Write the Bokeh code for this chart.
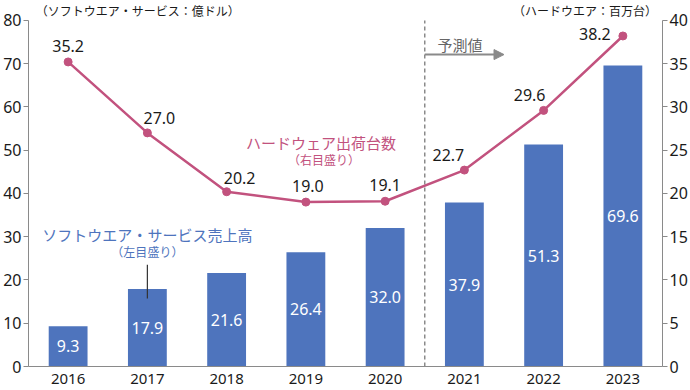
from bokeh.plotting import figure
from bokeh.models import (Range1d, FactorRange, LinearAxis, Label, Arrow,
                          NormalHead, FixedTicker, ColumnDataSource)
from bokeh.core.properties import value
from bokeh.embed import file_html
from bokeh.resources import INLINE

# ---- data ----
years = ["2016", "2017", "2018", "2019", "2020", "2021", "2022", "2023"]
software = [9.3, 17.9, 21.6, 26.4, 32.0, 37.9, 51.3, 69.6]      # 億ドル (left)
hardware = [35.2, 27.0, 20.2, 19.0, 19.1, 22.7, 29.6, 38.2]     # 百万台 (right)
left_ticks = [0, 10, 20, 30, 40, 50, 60, 70, 80]
right_ticks = [0, 5, 10, 15, 20, 25, 30, 35, 40]

# ---- layout of line value labels (screen px) ----
hw_dx = [0, 12, 13, 2, 0, -16, -14, -28]
hw_dy = [-16, -15, -14, -16, -16, -15, -15, -2]

FONT = "Noto Sans CJK JP"
NUMFONT = "Noto Sans"
BLUE = "#4e74bd"
PINK = "#c2527e"
GRAY = "#8a8a8a"
TXT = "#1a1a1a"

LTOP = 84.6               # left range top (headroom above the 80 tick)
RTOP = LTOP / 2           # right range top (same proportion)

p = figure(width=690, height=386,
           x_range=FactorRange(factors=years, range_padding=0),
           y_range=Range1d(0, LTOP),
           output_backend="svg", toolbar_location=None,
           min_border_left=0, min_border_right=0,
           min_border_top=0, min_border_bottom=20)
p.extra_y_ranges = {"right": Range1d(0, RTOP)}
p.outline_line_color = None
p.xgrid.grid_line_color = None
p.ygrid.grid_line_color = None
p.background_fill_color = "white"
p.border_fill_color = "white"

# axes
yl = p.yaxis[0]
yl.ticker = FixedTicker(ticks=left_ticks)
yl.bounds = (0, 80)
yr = LinearAxis(y_range_name="right", ticker=FixedTicker(ticks=right_ticks),
                bounds=(0, 40))
p.add_layout(yr, "right")
for ax in (yl, yr):
    ax.axis_line_color = GRAY
    ax.major_tick_line_color = GRAY
    ax.minor_tick_line_color = None
    ax.major_tick_out = 5
    ax.major_tick_in = 0
    ax.major_label_standoff = 2
    ax.major_label_text_font = NUMFONT
    ax.major_label_text_font_size = "16px"
    ax.major_label_text_color = TXT
xa = p.xaxis[0]
xa.axis_line_color = GRAY
xa.major_tick_line_color = None
xa.minor_tick_line_color = None
xa.major_label_standoff = 1
xa.major_label_text_font = NUMFONT
xa.major_label_text_font_size = "15px"
xa.major_label_text_color = TXT

# forecast divider (between 2020 and 2021)
p.segment(x0=[5.0], y0=[0], x1=[5.0], y1=[80], line_color=GRAY,
          line_dash="4 3", line_width=1.5)

# bars
bsrc = ColumnDataSource(dict(x=years, top=software,
                             mid=[v / 2 for v in software],
                             lab=[f"{v:.1f}" for v in software]))
p.vbar(x="x", top="top", width=0.49, source=bsrc, fill_color=BLUE, line_color=None)
p.text(x="x", y="mid", text="lab", source=bsrc, text_color="white",
       text_align="center", text_baseline="middle",
       text_font=value(NUMFONT), text_font_size="16px")

# hardware line
hsrc = ColumnDataSource(dict(x=years, y=hardware, dx=hw_dx, dy=hw_dy,
                             lab=[f"{v:.1f}" for v in hardware]))
p.line(x="x", y="y", source=hsrc, y_range_name="right", line_color=PINK, line_width=2.5)
p.scatter(x="x", y="y", source=hsrc, y_range_name="right", size=8,
          fill_color=PINK, line_color=PINK)
p.text(x="x", y="y", text="lab", source=hsrc, y_range_name="right",
       x_offset="dx", y_offset="dy", text_color=TXT,
       text_align="center", text_baseline="middle",
       text_font=value(NUMFONT), text_font_size="16px")

# annotations
def lab(x, y, t, color, size, align="left"):
    p.add_layout(Label(x=x, y=y, text=t, text_color=color, text_font=FONT,
                       text_font_size=size, text_align=align,
                       text_baseline="middle"))

lab(0.09, 82.4, "（ソフトウエア・サービス：億ドル）", TXT, "12px")
lab(7.93, 82.4, "（ハードウエア：百万台）", TXT, "12px", "right")
lab(5.16, 74.4, "予測値", "#666666", "15px")
p.add_layout(Arrow(end=NormalHead(size=10, fill_color=GRAY, line_color=GRAY),
                   x_start=5.0, y_start=72.1, x_end=6.0, y_end=72.1,
                   line_color=GRAY, line_width=2))
lab(3.69, 51.8, "ハードウェア出荷台数", PINK, "15px", "center")
lab(3.73, 47.9, "（右目盛り）", PINK, "12px", "center")
lab(1.50, 30.6, "ソフトウエア・サービス売上高", BLUE, "15px", "center")
lab(1.50, 26.5, "（左目盛り）", BLUE, "12px", "center")
p.segment(x0=[1.5], y0=[23.5], x1=[1.5], y1=[15.7], line_color="#333333", line_width=1.2)

open("out.html", "w").write(file_html(p, INLINE))
